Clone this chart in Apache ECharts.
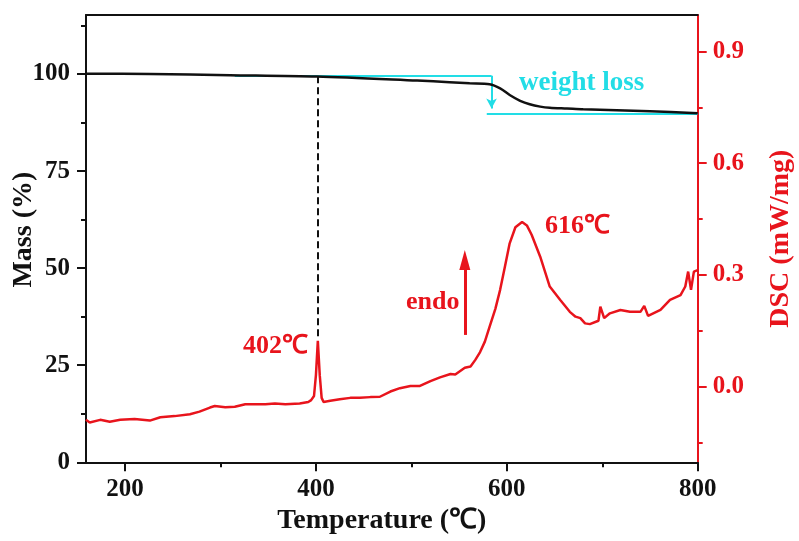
<!DOCTYPE html>
<html>
<head>
<meta charset="utf-8">
<script src="https://cdn.jsdelivr.net/npm/echarts@6/dist/echarts.min.js"></script>
<style>html,body{margin:0;padding:0;background:#fff;}#c{width:799px;height:541px;}</style>
</head>
<body>
<div id="c"></div>
<script>
// ---- data ----
const tgTemp = [159, 226, 310, 401, 506, 540, 561, 582, 593, 603, 614, 624, 635, 645, 663, 680, 715, 750, 800];
const tgMass = [100.1, 100.0, 99.7, 99.35, 98.3, 97.9, 97.6, 97.35, 96.3, 94.6, 93.1, 92.2, 91.6, 91.3, 91.1, 90.9, 90.65, 90.4, 89.9];

const dscTemp = [159, 163, 174, 184, 195, 210, 226, 237, 252, 268, 278, 289, 294, 305, 315, 326, 336, 347, 357, 368, 383, 392, 395, 398, 400, 402, 404, 406, 408, 415, 425, 436, 446, 457, 467, 478, 488, 499, 509, 520, 530, 541, 546, 556, 562, 567, 572, 577, 582, 588, 593, 598, 603, 609, 616, 621, 626, 635, 645, 656, 666, 672, 677, 682, 687, 696, 698, 702, 708, 719, 729, 740, 744, 748, 750, 761, 771, 782, 787, 790, 793, 796, 800];
const dscValue = [-0.089, -0.096, -0.089, -0.094, -0.089, -0.087, -0.091, -0.082, -0.079, -0.074, -0.067, -0.056, -0.052, -0.055, -0.054, -0.047, -0.047, -0.047, -0.045, -0.047, -0.045, -0.041, -0.036, -0.025, 0.031, 0.123, 0.031, -0.030, -0.041, -0.038, -0.034, -0.030, -0.030, -0.028, -0.027, -0.013, -0.004, 0.002, 0.002, 0.015, 0.025, 0.034, 0.033, 0.051, 0.054, 0.072, 0.093, 0.121, 0.161, 0.209, 0.260, 0.322, 0.385, 0.428, 0.442, 0.433, 0.408, 0.349, 0.269, 0.233, 0.201, 0.188, 0.184, 0.170, 0.168, 0.177, 0.215, 0.184, 0.197, 0.206, 0.201, 0.201, 0.217, 0.190, 0.188, 0.206, 0.233, 0.246, 0.269, 0.309, 0.260, 0.309, 0.313];

const xTicks = [200, 400, 600, 800];
const massTicks = [0, 25, 50, 75, 100];
const dscTicks = [0.0, 0.3, 0.6, 0.9];

// annotation values
const peak1Temp = 402, peak1Mass = 99.4, peak1MassLow = 31.6;
const lossStartTemp = 315, lossStepTemp = 584, lossLowStartTemp = 579, lossEndTemp = 800;
const lossTopMass = 99.55, lossBottomMass = 89.8, lossArrowMass = 91.1;
const endoTemp = 556, endoFrom = 0.139, endoTo = 0.34;
const labels = { peak1: '402℃', peak2: '616℃', endo: 'endo', loss: 'weight loss' };

// ---- layout ----
const L = 86, R = 697.7, T = 15, B = 462.3;
const W = R - L, H = B - T;
const yMass = m => B - m * (H / 115.2);
const yDsc = v => B - (v + 0.203) * (H / 1.201);
const xT = t => L + (t - 159.1) * (W / 640.9);

const RED = '#e8141c', BLACK = '#111', CYAN = '#22dde6';
const FONT = "'Liberation Serif', 'Times New Roman', serif";

const hiddenX = gi => ({ type: 'value', gridIndex: gi, show: false, min: 0, max: 1 });
const hiddenY = gi => ({ type: 'value', gridIndex: gi, show: false, min: 0, max: 1 });
const noSplit = { show: false };
const noLine = { show: false, onZero: false };

const grids = [
  { left: L, top: T, width: W, height: H },                                    // 0 main
  { left: L, top: yMass(100), width: W, height: B - yMass(100) },              // 1 mass major
  { left: L, top: yMass(112.5), width: W, height: yMass(100) - yMass(112.5) }, // 2 mass top minor
  { left: L, top: yDsc(0.9), width: W, height: yDsc(0) - yDsc(0.9) },         // 3 dsc major
  { left: L, top: yDsc(0), width: W, height: yDsc(-0.15) - yDsc(0) },         // 4 dsc bottom minor
  { left: xT(200), top: T, width: xT(800) - xT(200), height: H }              // 5 temperature ticks
].map(g => Object.assign({ containLabel: false, outerBoundsMode: 'none', show: false }, g));

const labelFont = { fontFamily: FONT, fontWeight: 'bold', fontSize: 25 };

const option = {
  animation: false,
  backgroundColor: '#fff',
  grid: grids,
  xAxis: [
    { type: 'value', gridIndex: 0, min: 159.1, max: 800, position: 'bottom',
      axisLine: { show: true, onZero: false, lineStyle: { color: BLACK, width: 2 } },
      axisTick: { show: false }, axisLabel: { show: false }, splitLine: noSplit,
      name: 'Temperature (℃)', nameLocation: 'middle', nameGap: 44, nameMoveOverlap: false,
      nameTextStyle: { fontFamily: FONT, fontWeight: 'bold', fontSize: 28, color: BLACK, padding: [0, 20, 0, 0] } },
    { type: 'value', gridIndex: 0, min: 159.1, max: 800, position: 'top',
      axisLine: { show: true, onZero: false, lineStyle: { color: BLACK, width: 2 } },
      axisTick: { show: false }, axisLabel: { show: false }, splitLine: noSplit },
    hiddenX(1), hiddenX(2), hiddenX(3), hiddenX(4),
    { type: 'value', gridIndex: 5, min: xTicks[0], max: xTicks[xTicks.length - 1], interval: 200, position: 'bottom',
      axisLine: noLine,
      axisTick: { show: true, inside: false, length: 9, lineStyle: { color: BLACK, width: 2 } },
      minorTick: { show: true, splitNumber: 2, length: 5, lineStyle: { color: BLACK, width: 2 } },
      axisLabel: Object.assign({ show: true, color: BLACK, margin: 15 }, labelFont),
      splitLine: noSplit }
  ],
  yAxis: [
    { type: 'value', gridIndex: 0, min: 0, max: 115.2, position: 'left',
      axisLine: { show: true, onZero: false, lineStyle: { color: BLACK, width: 2 } },
      axisTick: { show: false }, axisLabel: { show: false }, splitLine: noSplit,
      name: 'Mass (%)', nameLocation: 'middle', nameGap: 48, nameRotate: 90, nameMoveOverlap: false,
      nameTextStyle: { fontFamily: FONT, fontWeight: 'bold', fontSize: 28, color: BLACK, padding: [0, 0, 0, 18] } },
    { type: 'value', gridIndex: 0, min: -0.203, max: 0.998, position: 'right',
      axisLine: { show: true, onZero: false, lineStyle: { color: RED, width: 2 } },
      axisTick: { show: false }, axisLabel: { show: false }, splitLine: noSplit,
      name: 'DSC (mW/mg)', nameLocation: 'middle', nameGap: 69, nameRotate: 90, nameMoveOverlap: false,
      nameTextStyle: { fontFamily: FONT, fontWeight: 'bold', fontSize: 28, color: RED } },
    { type: 'value', gridIndex: 1, min: massTicks[0], max: massTicks[massTicks.length - 1], interval: 25, position: 'left',
      axisLine: noLine,
      axisTick: { show: true, inside: false, length: 9, lineStyle: { color: BLACK, width: 2 } },
      minorTick: { show: true, splitNumber: 2, length: 5, lineStyle: { color: BLACK, width: 2 } },
      axisLabel: Object.assign({ show: true, color: BLACK, margin: 16 }, labelFont),
      splitLine: noSplit },
    { type: 'value', gridIndex: 2, min: 100, max: 112.5, interval: 12.5, position: 'left',
      axisLine: noLine,
      axisTick: { show: true, inside: false, length: 5, lineStyle: { color: BLACK, width: 2 } },
      axisLabel: { show: false }, splitLine: noSplit },
    { type: 'value', gridIndex: 3, min: dscTicks[0], max: dscTicks[dscTicks.length - 1], interval: 0.3, position: 'right',
      axisLine: noLine,
      axisTick: { show: true, inside: false, length: 9, lineStyle: { color: RED, width: 2 } },
      minorTick: { show: true, splitNumber: 2, length: 5, lineStyle: { color: RED, width: 2 } },
      axisLabel: Object.assign({ show: true, color: RED, margin: 15, formatter: v => v.toFixed(1) }, labelFont),
      splitLine: noSplit },
    { type: 'value', gridIndex: 4, min: -0.15, max: 0, interval: 0.15, position: 'right',
      axisLine: noLine,
      axisTick: { show: true, inside: false, length: 5, lineStyle: { color: RED, width: 2 } },
      axisLabel: { show: false }, splitLine: noSplit },
    hiddenY(5)
  ],
  series: [
    { name: 'TG', type: 'line', xAxisIndex: 0, yAxisIndex: 0, smooth: 0.3, symbol: 'none', silent: true,
      lineStyle: { color: BLACK, width: 2.5 }, z: 5,
      data: tgTemp.map((t, i) => [t, tgMass[i]]),
      markLine: {
        silent: true, symbol: ['none', 'none'], label: { show: false }, animation: false,
        data: [
          [{ coord: [peak1Temp, peak1Mass], lineStyle: { color: BLACK, width: 2, type: [7, 4] } },
           { coord: [peak1Temp, peak1MassLow] }],
          [{ coord: [lossStartTemp, lossTopMass], lineStyle: { color: CYAN, width: 2, type: 'solid' } },
           { coord: [lossStepTemp, lossTopMass] }],
          [{ coord: [lossStepTemp, lossTopMass], lineStyle: { color: CYAN, width: 2, type: 'solid' }, symbol: 'none' },
           { coord: [lossStepTemp, lossArrowMass], symbol: 'arrow', symbolSize: [8, 10] }],
          [{ coord: [lossLowStartTemp, lossBottomMass], lineStyle: { color: CYAN, width: 2, type: 'solid' } },
           { coord: [lossEndTemp, lossBottomMass] }]
        ]
      } },
    { name: 'DSC', type: 'line', xAxisIndex: 0, yAxisIndex: 1, smooth: false, symbol: 'none', silent: true,
      lineStyle: { color: RED, width: 2.5 }, z: 4,
      data: dscTemp.map((t, i) => [t, dscValue[i]]),
      markLine: {
        silent: true, symbol: ['none', 'none'], label: { show: false }, animation: false,
        data: [
          [{ coord: [endoTemp, endoFrom], lineStyle: { color: RED, width: 3, type: 'solid' }, symbol: 'none' },
           { coord: [endoTemp, endoTo], symbol: 'triangle', symbolSize: [11, 20] }]
        ]
      } }
  ],
  graphic: [
    { type: 'text', left: 243, top: 333, style: { text: labels.peak1, fill: RED, font: "bold 26px " + FONT } },
    { type: 'text', left: 545, top: 213, style: { text: labels.peak2, fill: RED, font: "bold 26px " + FONT } },
    { type: 'text', left: 406, top: 289, style: { text: labels.endo, fill: RED, font: "bold 26px " + FONT } },
    { type: 'text', left: 519, top: 70, style: { text: labels.loss, fill: CYAN, font: "bold 27px " + FONT } }
  ]
};

const chart = echarts.init(document.getElementById('c'), null, { renderer: 'canvas' });
chart.setOption(option);
</script>
</body>
</html>
